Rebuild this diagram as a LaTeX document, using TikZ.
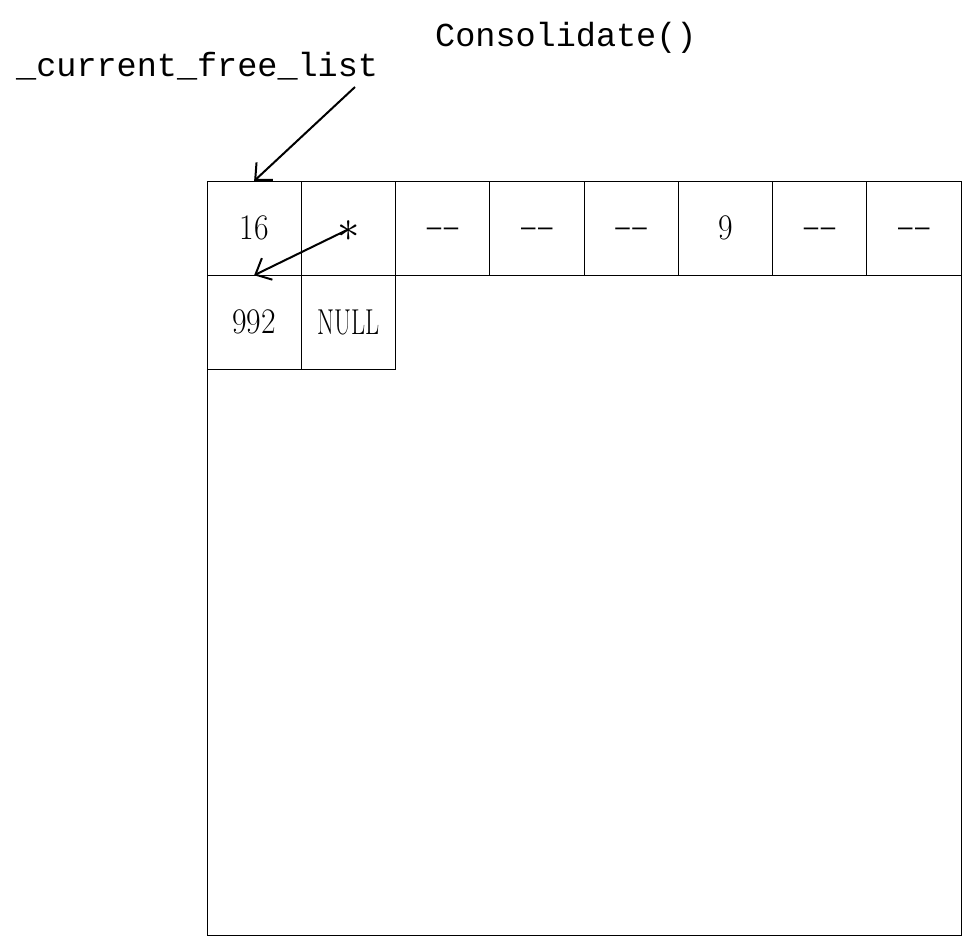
\documentclass[tikz,border=0pt]{standalone}
\usepackage{fontspec}
\usepackage{graphicx}
\newfontfamily\monofnt{Liberation Mono}
\newfontfamily\sansfnt{Liberation Sans}
\usetikzlibrary{arrows.meta}
\begin{document}
\begin{tikzpicture}[x=1pt,y=-1pt,
  cell/.style={draw=black, line width=1pt, minimum width=94.25pt, minimum height=94.25pt,
    inner sep=0pt, outer sep=0pt, anchor=north west, font=\fontsize{36}{36}\selectfont},
  lbl/.style={font=\monofnt\fontsize{33.5}{33.5}\selectfont, inner sep=0pt, anchor=base west},
  dsh/.style={font=\sansfnt\fontsize{26}{26}\selectfont, text height=15pt, text depth=0pt},
  ptr/.style={line width=2pt, -{Straight Barb[length=13pt,width=24pt,line width=2pt]}}]
\useasboundingbox (0,0) rectangle (963,937);
\fill[white] (0,0) rectangle (963,937);
% memory block
\node[draw=black, line width=1pt, minimum width=754pt, minimum height=754pt,
  inner sep=0pt, outer sep=0pt, anchor=north west] (mem) at (207,181) {};
% top row
\node[cell] (c16) at (207,181) {\scalebox{0.88}[1]{16}};
\node[cell] (cstar) at (301.25,181) {};
\node[cell, dsh] (c3) at (395.5,181) {\textendash\kern2.5pt\textendash};
\node[cell, dsh] (c4) at (489.75,181) {\textendash\kern2.5pt\textendash};
\node[cell, dsh] (c5) at (584,181) {\textendash\kern2.5pt\textendash};
\node[cell] (c9) at (678.25,181) {\scalebox{0.88}[1]{9}};
\node[cell, dsh] (c7) at (772.5,181) {\textendash\kern2.5pt\textendash};
\node[cell, dsh] (c8) at (866.75,181) {\textendash\kern2.5pt\textendash};
% second row
\node[cell] (c992) at (207,275.25) {\scalebox{0.88}[1]{992}};
\node[cell] (cnull) at (301.25,275.25) {\scalebox{0.68}[1]{NULL}};
% asterisk
\node[inner sep=0pt, anchor=base, font=\fontsize{34}{34}\selectfont] (star) at (349,241) {\scalebox{1.8}{$\ast$}};
\coordinate (s) at (349,229);
% labels
\node[lbl] (title) at (435,46) {Consolidate()};
\node[lbl] (cfl) at (16,76) {\_current\_free\_list};
\coordinate (fl) at (355,87);
% pointers
\draw[ptr] (fl) -- (c16.north);
\draw[ptr] (s) -- (c992.north);
\end{tikzpicture}
\end{document}
